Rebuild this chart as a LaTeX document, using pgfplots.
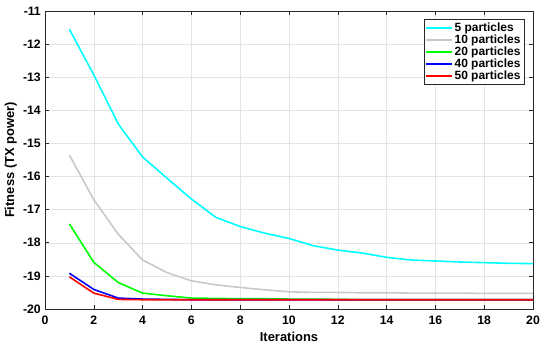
\documentclass[border=0pt]{standalone}
\usepackage{pgfplots}
\pgfplotsset{compat=1.18}
\usepackage{fontspec}
\setmainfont{Liberation Sans}
\definecolor{gridc}{RGB}{228,228,228}
\definecolor{axc}{RGB}{40,40,40}
\definecolor{mygray}{RGB}{200,200,200}
\definecolor{mycyan}{RGB}{0,255,255}
\definecolor{mygreen}{RGB}{0,255,0}
\definecolor{myblue}{RGB}{0,0,255}
\definecolor{myred}{RGB}{255,0,0}
\begin{document}
\fontsize{12}{14}\selectfont\bfseries
\begin{tikzpicture}
\begin{axis}[
  scale only axis, width=488bp, height=298bp,
  xmin=0, xmax=20, ymin=-20, ymax=-11,
  xtick={0,2,...,20},
  ytick={-20,-19,...,-11},
  yticklabels={-20,-19,-18,-17,-16,-15,-14,-13,-12,-11},
  xticklabels={0,2,4,6,8,10,12,14,16,18,20},
  tick align=inside, tick pos=both,
  major tick length=4bp,
  axis line style={axc, line width=0.6pt},
  tick style={axc, line width=0.6pt},
  grid=major, grid style={gridc, line width=0.5pt},
  ticklabel style={font=\fontsize{12.3}{14}\selectfont\bfseries},
  xticklabel style={yshift=-2.5bp},
  xlabel={Iterations}, ylabel={Fitness (TX power)},
  label style={font=\fontsize{13}{14}\selectfont\bfseries},
  xlabel style={yshift=0bp},
  ylabel style={yshift=-2bp},
  legend style={at={(rel axis cs:0.982,0.973)}, anchor=north east, draw=axc, line width=0.6pt,
     font=\fontsize{12}{13}\selectfont\bfseries, row sep=-2.5bp, inner sep=1.5bp},
  legend cell align=left,
  legend image code/.code={\draw[#1, line width=1.6pt] (0cm,0cm) -- (0.9cm,0cm);},
]
\addplot[color=mycyan, line width=1.6pt] coordinates {(1,-11.55)(2,-12.93)(3,-14.41)(4,-15.41)(5,-16.05)(6,-16.68)(7,-17.23)(8,-17.51)(9,-17.71)(10,-17.87)(11,-18.09)(12,-18.22)(13,-18.31)(14,-18.44)(15,-18.52)(16,-18.55)(17,-18.58)(18,-18.60)(19,-18.62)(20,-18.63)};
\addlegendentry{5 particles}
\addplot[color=mygray, line width=1.6pt] coordinates {(1,-15.35)(2,-16.70)(3,-17.74)(4,-18.52)(5,-18.90)(6,-19.15)(7,-19.27)(8,-19.35)(9,-19.42)(10,-19.48)(11,-19.50)(12,-19.50)(13,-19.51)(14,-19.51)(15,-19.52)(16,-19.52)(17,-19.52)(18,-19.53)(19,-19.53)(20,-19.53)};
\addlegendentry{10 particles}
\addplot[color=mygreen, line width=1.6pt] coordinates {(1,-17.43)(2,-18.59)(3,-19.20)(4,-19.52)(5,-19.60)(6,-19.67)(7,-19.68)(8,-19.69)(9,-19.69)(10,-19.70)(11,-19.70)(12,-19.71)(13,-19.72)(14,-19.72)(15,-19.72)(16,-19.72)(17,-19.72)(18,-19.72)(19,-19.72)(20,-19.72)};
\addlegendentry{20 particles}
\addplot[color=myblue, line width=1.6pt] coordinates {(1,-18.92)(2,-19.41)(3,-19.67)(4,-19.70)(5,-19.71)(6,-19.72)(7,-19.72)(8,-19.72)(9,-19.72)(10,-19.72)(11,-19.72)(12,-19.72)(13,-19.72)(14,-19.72)(15,-19.72)(16,-19.72)(17,-19.72)(18,-19.72)(19,-19.72)(20,-19.72)};
\addlegendentry{40 particles}
\addplot[color=myred, line width=1.6pt] coordinates {(1,-19.03)(2,-19.52)(3,-19.71)(4,-19.72)(5,-19.72)(6,-19.72)(7,-19.72)(8,-19.72)(9,-19.72)(10,-19.72)(11,-19.72)(12,-19.72)(13,-19.72)(14,-19.72)(15,-19.72)(16,-19.72)(17,-19.72)(18,-19.72)(19,-19.72)(20,-19.72)};
\addlegendentry{50 particles}
\end{axis}
\path (current axis.south west) ++(-45bp,-39bp) coordinate (bbl);
\path (current axis.north east) ++(17bp,11bp) coordinate (btr);
\useasboundingbox (bbl) rectangle (btr);
\end{tikzpicture}
\end{document}
